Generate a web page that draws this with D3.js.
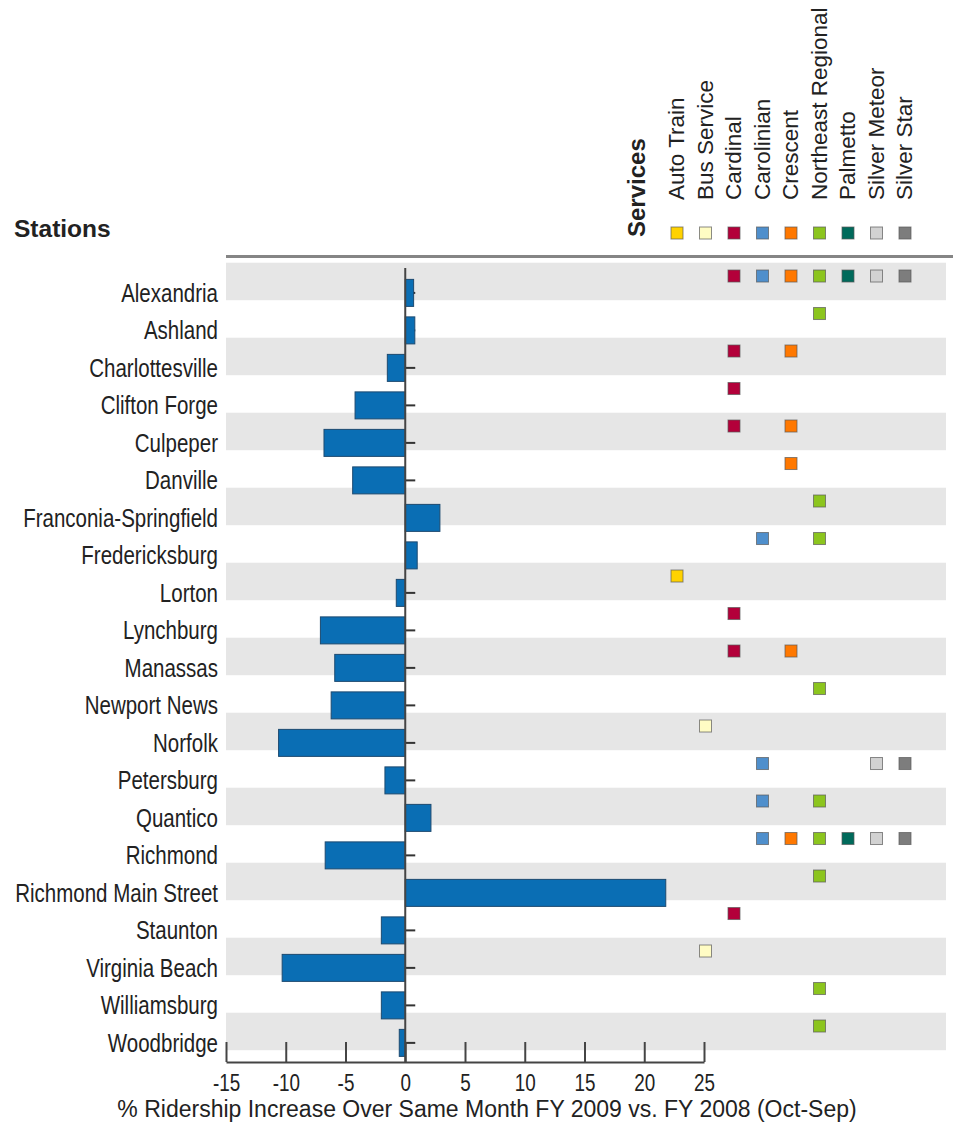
<!DOCTYPE html>
<html>
<head>
<meta charset="utf-8">
<script src="https://cdn.jsdelivr.net/npm/d3@7"></script>
<style>
  body { margin: 0; background: #fff; }
  svg { display: block; }
</style>
</head>
<body>
<div id="chart"></div>
<script>
const stations = ["Alexandria", "Ashland", "Charlottesville", "Clifton Forge", "Culpeper",
  "Danville", "Franconia-Springfield", "Fredericksburg", "Lorton", "Lynchburg", "Manassas",
  "Newport News", "Norfolk", "Petersburg", "Quantico", "Richmond", "Richmond Main Street",
  "Staunton", "Virginia Beach", "Williamsburg", "Woodbridge"];

// % ridership increase
const change = [0.7, 0.8, -1.5, -4.2, -6.8, -4.4, 2.9, 1.0, -0.75, -7.1, -5.9,
  -6.2, -10.6, -1.7, 2.15, -6.7, 21.8, -2.0, -10.3, -2.0, -0.5];

const services = ["Auto Train", "Bus Service", "Cardinal", "Carolinian", "Crescent",
  "Northeast Regional", "Palmetto", "Silver Meteor", "Silver Star"];
const serviceColors = ["#ffd200", "#fffcc4", "#b3003a", "#4f8fcc", "#ff7800",
  "#8cc51e", "#006a5b", "#d2d2d2", "#7d7d7d"];

const stationServices = [
  ["Cardinal", "Carolinian", "Crescent", "Northeast Regional", "Palmetto", "Silver Meteor", "Silver Star"],
  ["Northeast Regional"],
  ["Cardinal", "Crescent"],
  ["Cardinal"],
  ["Cardinal", "Crescent"],
  ["Crescent"],
  ["Northeast Regional"],
  ["Carolinian", "Northeast Regional"],
  ["Auto Train"],
  ["Cardinal"],
  ["Cardinal", "Crescent"],
  ["Northeast Regional"],
  ["Bus Service"],
  ["Carolinian", "Silver Meteor", "Silver Star"],
  ["Carolinian", "Northeast Regional"],
  ["Carolinian", "Crescent", "Northeast Regional", "Palmetto", "Silver Meteor", "Silver Star"],
  ["Northeast Regional"],
  ["Cardinal"],
  ["Bus Service"],
  ["Northeast Regional"],
  ["Northeast Regional"]
];

const xTicks = [-15, -10, -5, 0, 5, 10, 15, 20, 25];
const xTitle = "% Ridership Increase Over Same Month FY 2009 vs. FY 2008 (Oct-Sep)";

const W = 953, H = 1122;
const font = "'Liberation Sans', Arial, sans-serif";
const squeeze = "scale(0.82,1)"; // narrow look, no condensed face installed
const ink = "#222";

const data = stations.map((s, i) => ({ station: s, value: change[i], services: stationServices[i] }));

const x = d3.scaleLinear().domain([-15, 25]).range([226, 704]);
const y = d3.scaleBand().domain(stations).range([262.7, 262.7 + 21 * 37.5]);
const col = d3.scalePoint().domain(services).range([677, 905]);
const color = d3.scaleOrdinal().domain(services).range(serviceColors);
const bw = y.bandwidth();
const barY = d => y(d) + bw * 0.445;
const barH = bw * 0.72;
const rowMid = d => barY(d) + barH / 2;
const markY = d => y(d) + bw * 0.355;
const axisY = 1062;

const svg = d3.select("#chart").append("svg")
  .attr("width", W)
  .attr("height", H);

// alternating row bands
svg.append("g").selectAll("rect")
  .data(stations.filter((s, i) => i % 2 === 0))
  .join("rect")
  .attr("x", 226)
  .attr("y", d => y(d))
  .attr("width", 946 - 226)
  .attr("height", bw)
  .attr("fill", "#e6e6e6");

// header rule
svg.append("line")
  .attr("x1", 226).attr("x2", W)
  .attr("y1", 256.5).attr("y2", 256.5)
  .attr("stroke", "#858585")
  .attr("stroke-width", 3);

svg.append("text")
  .attr("x", 14).attr("y", 237)
  .attr("font-family", font)
  .attr("font-weight", "bold")
  .attr("font-size", 24.5)
  .attr("fill", ink)
  .text("Stations");

svg.append("text")
  .attr("transform", "translate(645,237) rotate(-90)")
  .attr("font-family", font)
  .attr("font-weight", "bold")
  .attr("font-size", 24)
  .attr("fill", ink)
  .text("Services");

// service legend
const legend = svg.append("g");
legend.selectAll("text")
  .data(services)
  .join("text")
  .attr("transform", d => `translate(${col(d) + 7},200) rotate(-90)`)
  .attr("font-family", font)
  .attr("font-size", 22.5)
  .attr("fill", ink)
  .text(d => d);

legend.selectAll("rect")
  .data(services)
  .join("rect")
  .attr("x", d => col(d) - 6)
  .attr("y", 233 - 6)
  .attr("width", 12)
  .attr("height", 12)
  .attr("fill", d => color(d))
  .attr("stroke", "#5a5a5a")
  .attr("stroke-opacity", 0.7)
  .attr("stroke-width", 1);

// little ticks on the zero line
svg.append("g").selectAll("line")
  .data(stations)
  .join("line")
  .attr("x1", x(0)).attr("x2", x(0) + 10)
  .attr("y1", d => rowMid(d)).attr("y2", d => rowMid(d))
  .attr("stroke", "#333")
  .attr("stroke-width", 2);

// bars
svg.append("g").selectAll("rect")
  .data(data)
  .join("rect")
  .attr("x", d => x(Math.min(0, d.value)))
  .attr("y", d => barY(d.station))
  .attr("width", d => Math.abs(x(d.value) - x(0)))
  .attr("height", barH)
  .attr("fill", "#0a6eb4")
  .attr("stroke", "#1d4a70")
  .attr("stroke-width", 1);

// zero line
svg.append("line")
  .attr("x1", x(0)).attr("x2", x(0))
  .attr("y1", 268).attr("y2", axisY)
  .attr("stroke", "#444")
  .attr("stroke-width", 2);

// station labels
svg.append("g").selectAll("text")
  .data(stations)
  .join("text")
  .attr("transform", d => `translate(218,${rowMid(d)}) ${squeeze}`)
  .attr("dy", "0.35em")
  .attr("text-anchor", "end")
  .attr("font-family", font)
  .attr("font-size", 25)
  .attr("fill", ink)
  .text(d => d);

// service markers per station
const marks = data.flatMap(d => d.services.map(s => ({ station: d.station, service: s })));
svg.append("g").selectAll("rect")
  .data(marks)
  .join("rect")
  .attr("x", d => col(d.service) - 6)
  .attr("y", d => markY(d.station) - 6)
  .attr("width", 12)
  .attr("height", 12)
  .attr("fill", d => color(d.service))
  .attr("stroke", "#5a5a5a")
  .attr("stroke-opacity", 0.7)
  .attr("stroke-width", 1);

// x axis
const xAxis = svg.append("g")
  .attr("transform", `translate(0,${axisY})`)
  .call(d3.axisBottom(x)
    .tickValues(xTicks)
    .tickFormat(d => String(d))
    .tickSizeInner(-20)
    .tickSizeOuter(0)
    .tickPadding(13));

xAxis.select(".domain").attr("stroke", "#444").attr("stroke-width", 2);
xAxis.selectAll(".tick line").attr("stroke", "#444").attr("stroke-width", 2);
xAxis.selectAll(".tick text")
  .attr("transform", squeeze)
  .attr("font-family", font)
  .attr("font-size", 23)
  .attr("fill", ink);

svg.append("text")
  .attr("x", 487).attr("y", 1117)
  .attr("text-anchor", "middle")
  .attr("font-family", font)
  .attr("font-size", 23)
  .attr("fill", ink)
  .text(xTitle);
</script>
</body>
</html>
